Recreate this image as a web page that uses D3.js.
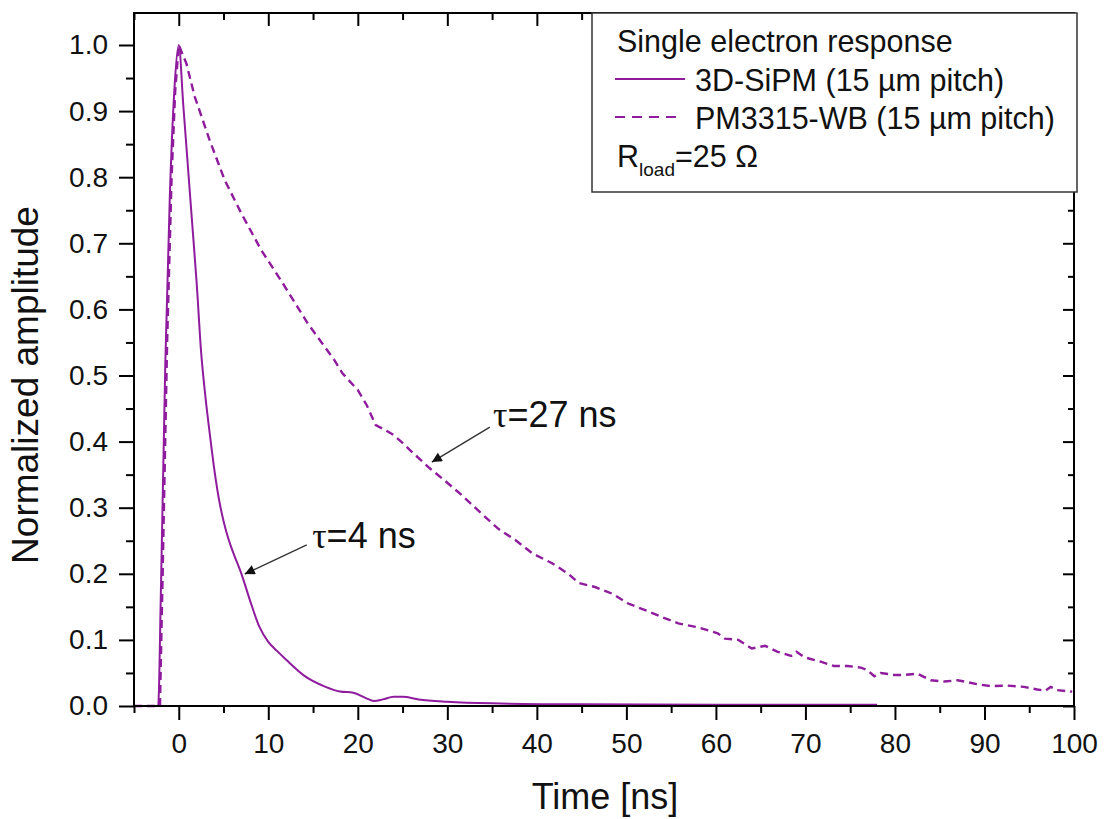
<!DOCTYPE html>
<html>
<head>
<meta charset="utf-8">
<script src="https://cdn.jsdelivr.net/npm/d3@7"></script>
<style>
  html, body { margin: 0; padding: 0; background: #fff; }
  svg { display: block; font-family: "Liberation Sans", Arial, sans-serif; }
</style>
</head>
<body>
<svg id="chart" width="1109" height="819"></svg>
<script>
// ---------------- data ----------------
const sipmTime = [-5, -2.3, -2.0, -1.5, -1.0, -0.5, 0, 0.5, 1.0, 1.5, 2.0, 2.5, 3.0, 3.5, 4.0, 4.5, 5.0, 5.5, 6.0, 7.0, 8.0, 9.0, 10, 11, 12, 14, 16.4, 18, 19.5, 20.9, 21.8, 22.8, 24, 25, 26.8, 30, 35, 45, 60, 78];
const sipmAmp  = [0, 0, 0.17, 0.52, 0.77, 0.93, 1.0, 0.91, 0.82, 0.73, 0.64, 0.535, 0.465, 0.408, 0.355, 0.312, 0.28, 0.255, 0.235, 0.2, 0.158, 0.12, 0.097, 0.083, 0.07, 0.046, 0.029, 0.022, 0.020, 0.012, 0.0076, 0.010, 0.014, 0.014, 0.010, 0.0065, 0.004, 0.0025, 0.002, 0.002];

const pmTime = [-5, -2.1, -1.8, -1.3, -0.8, -0.4, 0, 0.85, 1.78, 3.45, 5.12, 7.0, 9.2, 11.6, 14.4, 17.4, 18.3,
  20, 21, 22, 23, 24, 25, 26, 27.2, 28, 29.8, 31.7, 33.9, 35.7, 37.6, 39.5, 41.7, 43.5, 44.7, 46.5,
  48.4, 50.2, 52.1, 53.9, 55.8, 58.0, 60.2, 61.0, 62.5, 64.0, 65.5, 66.9, 68.4, 69.0, 69.9, 71.7,
  73.2, 74.7, 76.2, 76.9, 77.7, 78.4, 79.9, 81.0, 82.5, 84.0, 85.5, 87.0, 89.2, 90.7, 92.5, 94.4,
  95.9, 96.8, 97.4, 98.1, 99.8];
const pmAmp = [0, 0, 0.2, 0.55, 0.8, 0.93, 1.0, 0.972, 0.922, 0.856, 0.796, 0.745, 0.69, 0.64, 0.579, 0.523, 0.503,
  0.478, 0.455, 0.425, 0.418, 0.41, 0.398, 0.385, 0.37, 0.36, 0.34, 0.318, 0.29, 0.268, 0.251, 0.231, 0.216, 0.2, 0.186, 0.18,
  0.17, 0.155, 0.145, 0.135, 0.125, 0.119, 0.110, 0.102, 0.100, 0.087, 0.091, 0.082, 0.0757, 0.082, 0.0736, 0.067,
  0.0605, 0.0605, 0.058, 0.0545, 0.045, 0.050, 0.047, 0.047, 0.049, 0.039, 0.037, 0.039, 0.033, 0.030, 0.031, 0.029,
  0.025, 0.023, 0.029, 0.024, 0.0217];

const xMajorTicks = [0, 10, 20, 30, 40, 50, 60, 70, 80, 90, 100];
const xMinorTicks = [-5, 5, 15, 25, 35, 45, 55, 65, 75, 85, 95];
const yMajorTicks = [0, 0.1, 0.2, 0.3, 0.4, 0.5, 0.6, 0.7, 0.8, 0.9, 1.0];
const yMinorTicks = [0.05, 0.15, 0.25, 0.35, 0.45, 0.55, 0.65, 0.75, 0.85, 0.95];

const seriesNames = ["3D-SiPM (15 µm pitch)", "PM3315-WB (15 µm pitch)"];
const legendTitle = "Single electron response";

// annotations: label, text anchor (data), arrow start (data), arrow end (data)
const annLabels = ["27 ns", "4 ns"];
const annText   = [[35.1, 0.422], [14.9, 0.239]];
const annFrom   = [[34.75, 0.422], [14.3, 0.2436]];
const annTo     = [[28.27, 0.369], [7.37, 0.1997]];

// ---------------- layout ----------------
const svg = d3.select("#chart");
const L = 134, R = 1074, T = 13, B = 706;
const color = "#8f1b9d";

const x = d3.scaleLinear().domain([-5, 100]).range([L, R]);
const y = d3.scaleLinear().domain([0, 1.0484]).range([B, T]);

const fontTick = 28;

// curves
const line = d3.line().x(d => x(d[0])).y(d => y(d[1]));
const sipm = sipmTime.map((t, i) => [t, sipmAmp[i]]);
const pm = pmTime.map((t, i) => [t, pmAmp[i]]);

svg.append("path").datum(pm)
  .attr("d", line)
  .attr("fill", "none").attr("stroke", color).attr("stroke-width", 2.4)
  .attr("stroke-dasharray", "8,5");

svg.append("path").datum(sipm)
  .attr("d", line.curve(d3.curveMonotoneX))
  .attr("fill", "none").attr("stroke", color).attr("stroke-width", 2);

// axes
function styleAxis(g) {
  g.select(".domain").remove();
  g.selectAll("line").attr("stroke", "#000").attr("stroke-width", 2);
  g.selectAll("text").attr("font-size", fontTick).attr("fill", "#111")
    .attr("font-family", "'Liberation Sans', Arial, sans-serif");
}

svg.append("g").attr("transform", `translate(0,${B})`)
  .call(d3.axisBottom(x).tickValues(xMajorTicks).tickSize(14).tickPadding(13).tickFormat(d3.format("d")))
  .call(styleAxis);
svg.append("g").attr("transform", `translate(0,${B})`)
  .call(d3.axisBottom(x).tickValues(xMinorTicks).tickSize(7).tickFormat(""))
  .call(styleAxis);
svg.append("g").attr("transform", `translate(${L},0)`)
  .call(d3.axisLeft(y).tickValues(yMajorTicks).tickSize(15).tickPadding(11).tickFormat(d3.format(".1f")))
  .call(styleAxis);
svg.append("g").attr("transform", `translate(${L},0)`)
  .call(d3.axisLeft(y).tickValues(yMinorTicks).tickSize(8).tickFormat(""))
  .call(styleAxis);
// mirrored (inward) ticks
svg.append("g").attr("transform", `translate(0,${T})`)
  .call(d3.axisTop(x).tickValues(xMajorTicks).tickSize(-13).tickFormat(""))
  .call(styleAxis);
svg.append("g").attr("transform", `translate(0,${T})`)
  .call(d3.axisTop(x).tickValues(xMinorTicks).tickSize(-7).tickFormat(""))
  .call(styleAxis);
svg.append("g").attr("transform", `translate(${R},0)`)
  .call(d3.axisRight(y).tickValues(yMajorTicks).tickSize(-11).tickFormat(""))
  .call(styleAxis);
svg.append("g").attr("transform", `translate(${R},0)`)
  .call(d3.axisRight(y).tickValues(yMinorTicks).tickSize(-6).tickFormat(""))
  .call(styleAxis);

// frame
svg.append("rect").attr("x", L).attr("y", T).attr("width", R - L).attr("height", B - T)
  .attr("fill", "none").attr("stroke", "#000").attr("stroke-width", 2);

// axis titles
svg.append("text").attr("x", 605).attr("y", 809).attr("text-anchor", "middle")
  .attr("font-size", 36).attr("fill", "#111").text("Time [ns]");
svg.append("text").attr("transform", "translate(38,385) rotate(-90)").attr("text-anchor", "middle")
  .attr("font-size", 37).attr("fill", "#111").text("Normalized amplitude");

// legend
const fontLeg = 30.5;
const lg = svg.append("g");
lg.append("rect").attr("x", 592).attr("y", T).attr("width", 1077 - 592).attr("height", 192 - T)
  .attr("fill", "#fff").attr("stroke", "#333").attr("stroke-width", 1.5);
lg.append("text").attr("x", 617).attr("y", 52).attr("font-size", fontLeg).attr("fill", "#111").text(legendTitle);
lg.append("line").attr("x1", 615).attr("x2", 685).attr("y1", 79).attr("y2", 79)
  .attr("stroke", color).attr("stroke-width", 2);
lg.append("text").attr("x", 695).attr("y", 91).attr("font-size", fontLeg).attr("fill", "#111").text(seriesNames[0]);
lg.append("line").attr("x1", 615).attr("x2", 679).attr("y1", 117).attr("y2", 117)
  .attr("stroke", color).attr("stroke-width", 2).attr("stroke-dasharray", "10,7");
lg.append("text").attr("x", 695).attr("y", 129).attr("font-size", fontLeg).attr("fill", "#111").text(seriesNames[1]);
const rt = lg.append("text").attr("x", 617).attr("y", 167).attr("font-size", fontLeg).attr("fill", "#111");
rt.append("tspan").text("R");
rt.append("tspan").attr("font-size", 19).attr("dy", 9).text("load");
rt.append("tspan").attr("dy", -9).text("=25 Ω");

// annotations
const defs = svg.append("defs");
defs.append("marker").attr("id", "ah").attr("viewBox", "0 0 10 10")
  .attr("refX", 10).attr("refY", 5).attr("markerWidth", 17).attr("markerHeight", 10)
  .attr("markerUnits", "userSpaceOnUse").attr("orient", "auto")
  .append("path").attr("d", "M0,0 L10,5 L0,10 Z").attr("fill", "#111");

annLabels.forEach((lab, i) => {
  svg.append("line")
    .attr("x1", x(annFrom[i][0])).attr("y1", y(annFrom[i][1]))
    .attr("x2", x(annTo[i][0])).attr("y2", y(annTo[i][1]))
    .attr("stroke", "#333").attr("stroke-width", 1.4).attr("marker-end", "url(#ah)");
  const t = svg.append("text").attr("x", x(annText[i][0])).attr("y", y(annText[i][1]))
    .attr("font-size", 36).attr("fill", "#111");
  t.append("tspan").attr("font-family", "'Liberation Serif', 'Times New Roman', serif").text("τ");
  t.append("tspan").text("=" + lab);
});
</script>
</body>
</html>
